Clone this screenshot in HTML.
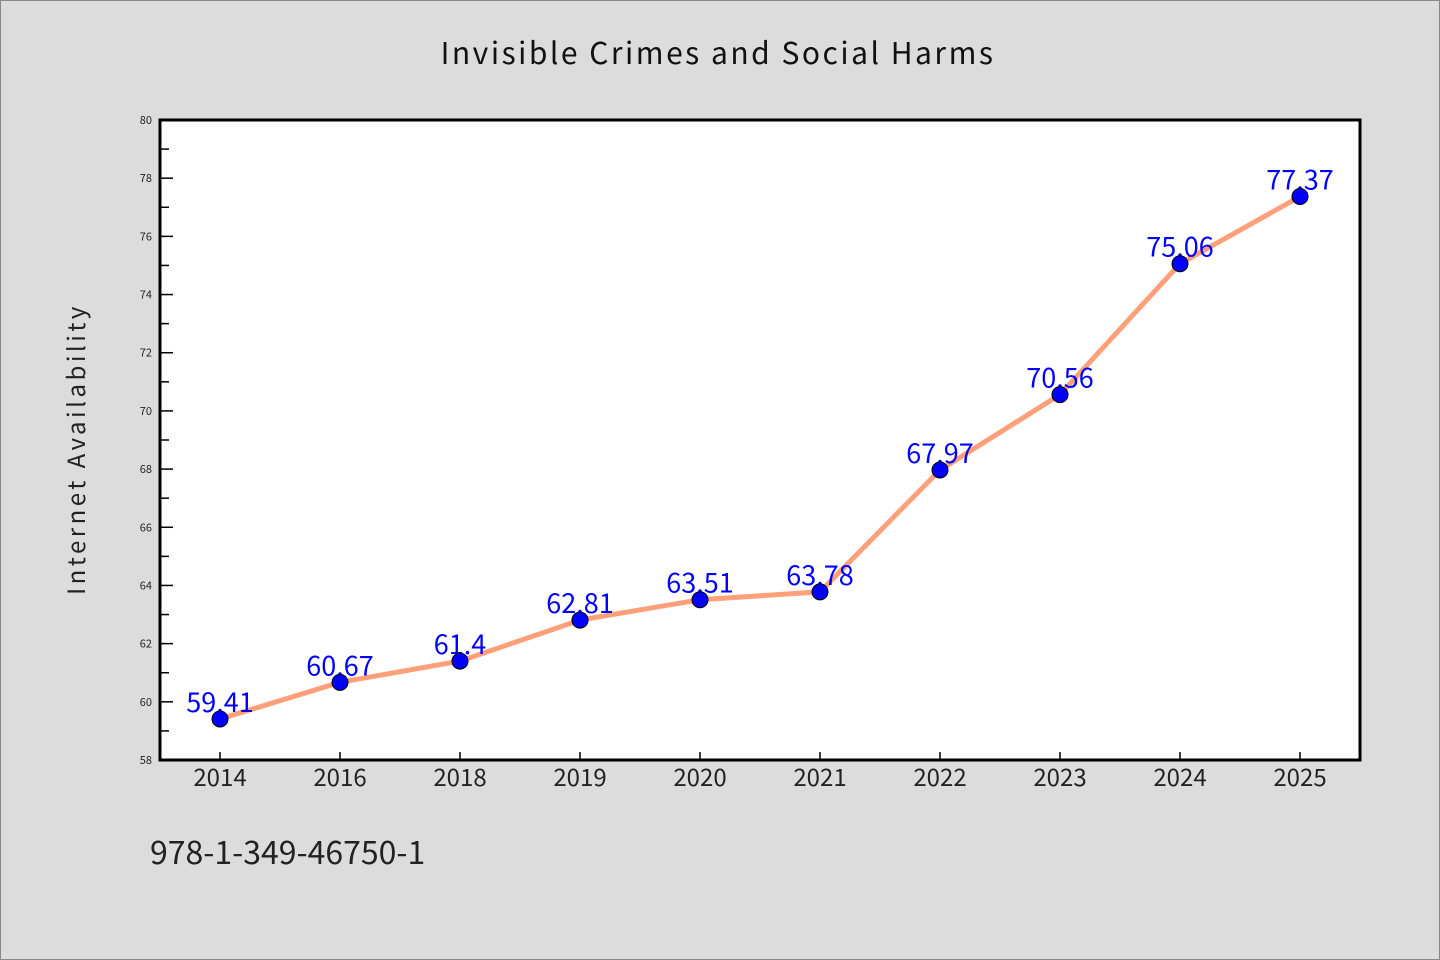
<!DOCTYPE html>
<html><head><meta charset="utf-8"><style>
html,body{margin:0;padding:0;background:#dcdcdc;}
svg{display:block;}
text{font-family:"WenQuanYi Zen Hei","Noto Sans CJK SC","DejaVu Sans",sans-serif;}
</style></head><body>
<svg id="chart" width="1440" height="960" xmlns="http://www.w3.org/2000/svg">
<rect x="0.5" y="0.5" width="1439" height="959" fill="#dcdcdc" stroke="#888"/>
<text x="718" y="64" text-anchor="middle" font-size="30" fill="#111" letter-spacing="2.5">Invisible Crimes and Social Harms</text>
<rect x="160" y="120" width="1200" height="640" fill="#fff"/>
<g id="yaxis"></g>
<g id="xaxis"></g>
<g id="series"></g>
<rect x="160" y="120" width="1200" height="640" fill="none" stroke="#000" stroke-width="3"/>
<text transform="translate(85,449) rotate(-90)" text-anchor="middle" font-size="24" fill="#222" letter-spacing="3.5">Internet Availability</text>
<text x="150" y="864" font-size="32" fill="#222">978-1-349-46750-1</text>
</svg>
<script>
const categories = ["2014","2016","2018","2019","2020","2021","2022","2023","2024","2025"];
const values = [59.41,60.67,61.4,62.81,63.51,63.78,67.97,70.56,75.06,77.37];
const valueLabels = ["59.41","60.67","61.4","62.81","63.51","63.78","67.97","70.56","75.06","77.37"];
const yTicks = [58,60,62,64,66,68,70,72,74,76,78,80];
const NS="http://www.w3.org/2000/svg";
const L=160,T=120,W=1200,H=640,yMin=58,yMax=80;
const band=W/categories.length;
function xs(i){return L+band*(i+0.5);}
function ys(v){return T+H-(v-yMin)/(yMax-yMin)*H;}
function mk(tag,a,p){const e=document.createElementNS(NS,tag);for(const k in a)e.setAttribute(k,a[k]);p.appendChild(e);return e;}
const ya=document.getElementById('yaxis'),xa=document.getElementById('xaxis'),sg=document.getElementById('series');
yTicks.forEach((t,i)=>{
  const y=ys(t);
  const ln=mk('line',{x1:L,x2:L+13,y1:y,y2:y,stroke:'#000','stroke-width':1.5},ya);
  
  
  const tx=mk('text',{x:L-8,y:y+4,'text-anchor':'end','font-size':11,fill:'#222'},ya);
  tx.textContent=t;
  
  
  if(i<yTicks.length-1){
    const ym=ys(t+1);
    const m=mk('line',{x1:L,x2:L+9,y1:ym,y2:ym,stroke:'#000','stroke-width':1.5},ya);
    
    
  }
});
categories.forEach((c,i)=>{
  const x=xs(i);
  const ln=mk('line',{x1:x,x2:x,y1:T+H,y2:T+H-8,stroke:'#000','stroke-width':1.5},xa);
  
  
  const tx=mk('text',{x:x,y:T+H+26,'text-anchor':'middle','font-size':24,fill:'#222'},xa);
  tx.textContent=c;
  
  
});
const pts=values.map((v,i)=>xs(i)+','+ys(v)).join(' ');
const pl=mk('polyline',{points:pts,fill:'none',stroke:'#ffa07a','stroke-width':5,'stroke-linejoin':'round'},sg);


values.forEach((v,i)=>{
  const tx=mk('text',{x:xs(i),y:ys(v)-7,'text-anchor':'middle','font-size':27,fill:'#0000ff'},sg);
  tx.textContent=valueLabels[i];
  
  
});
values.forEach((v,i)=>{
  const c=mk('circle',{cx:xs(i),cy:ys(v),r:8,fill:'#0000ff',stroke:'#000','stroke-width':1},sg);
  
  
});
</script>
</body></html>
